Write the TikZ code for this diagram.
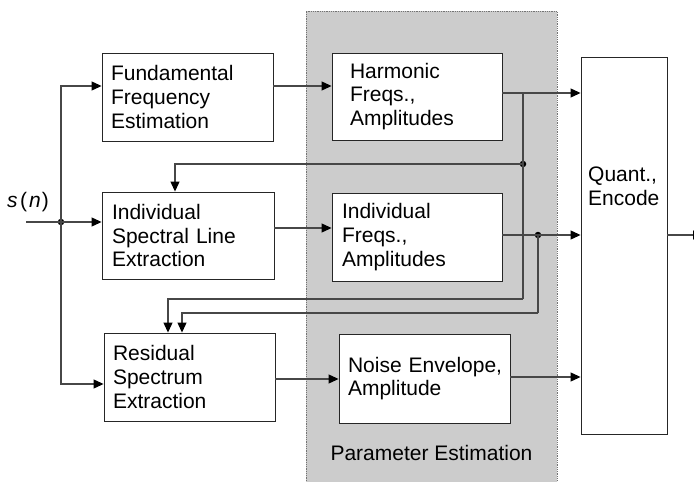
\documentclass[tikz,border=0pt]{standalone}
\usepackage{fontspec}
\setmainfont{Liberation Sans}
\usetikzlibrary{arrows.meta}
\begin{document}
\begin{tikzpicture}[x=1pt,y=-1pt,
  font=\fontsize{21}{23.7}\selectfont,
  conn/.style={draw=black!72, line width=1.1pt},
  arr/.style={conn, -{Triangle[length=10pt,width=9pt,black]}},
  box/.style={draw=black!85, line width=0.9pt, fill=white, inner ysep=0pt, align=left},
  dot/.style={circle, fill=black, inner sep=0pt, minimum size=6.5pt},
]
\useasboundingbox (0,0) rectangle (694,482);
% parameter estimation region
\fill[black!20] (306,11) rectangle (557,490);
\draw[densely dotted, black!55, line width=0.8pt] (306,490) -- (306,11) -- (557,11) -- (557,490);
\node[anchor=base] (pe) at (431.5,460.7) {Parameter Estimation};

% boxes
\node[box, minimum width=171pt, minimum height=88pt, text width=153pt, inner xsep=9pt] (ffe) at (187.5,97) {Fundamental\\Frequency\\Estimation};
\node[box, minimum width=172pt, minimum height=87pt, text width=152pt, inner xsep=10pt] (isle) at (188,235.5) {Individual\\Spectral Line\\Extraction};
\node[box, minimum width=171pt, minimum height=88pt, text width=153pt, inner xsep=9pt] (rse) at (189.5,377) {Residual\\Spectrum\\Extraction};
\node[box, minimum width=170pt, minimum height=87pt, text width=134pt, inner xsep=18pt] (harm) at (417,96.5) {Harmonic\\Freqs.,\\Amplitudes};
\node[box, minimum width=170pt, minimum height=88pt, text width=150pt, inner xsep=10pt] (iff) at (417,237) {Individual\\Freqs.,\\Amplitudes};
\node[box, minimum width=171pt, minimum height=89pt, text width=157pt, inner xsep=7pt] (noise) at (424.5,378.5) {\hspace*{2pt}Noise Envelope,\\\hspace*{2pt}Amplitude};
\node[draw=black!85, line width=0.9pt, fill=white, minimum width=86pt, minimum height=377pt, inner sep=0pt] (quant) at (624,245.5) {};
\node[anchor=north west, inner sep=0pt, align=left] (quanttxt) at (588,166.5) {Quant.,\\Encode};

% input
\node[anchor=base west, inner sep=0pt] (sn) at (7,207) {{\itshape s}\kern2.5pt(\kern2pt{\itshape n}\kern1pt)};
\coordinate (in) at (26,222);
\node[dot] (j) at (61,222) {};
\coordinate (jF) at (61,86);
\coordinate (jR) at (61,384);
\draw[conn] (in) -- (j.center);
\draw[arr] (j.center) -- (isle.west |- j);
\draw[arr] (j.center) -- (jF) -- (ffe.west |- jF);
\draw[arr] (j.center) -- (jR) -- (rse.west |- jR);

% first row
\draw[arr] (ffe.east |- jF) -- (harm.west |- jF);
\coordinate (hq) at (523,93);
\draw[arr] (harm.east |- hq) -- (quant.west |- hq);
\node[dot] (d1) at (523,164) {};
\coordinate (hb) at (523,299);
\draw[conn] (hq) -- (hb);
\coordinate (t1) at (175,164);
\draw[arr] (d1.center) -- (t1) -- (isle.north -| t1);
\coordinate (t2) at (168,299);
\draw[arr] (hb) -- (t2) -- (rse.north -| t2);

% second row
\coordinate (yII) at (300,228);
\draw[arr] (isle.east |- yII) -- (iff.west |- yII);
\node[dot] (d2) at (538,235) {};
\draw[arr] (iff.east |- d2) -- (quant.west |- d2);
\coordinate (ib) at (538,313);
\draw[conn] (d2.center) -- (ib);
\coordinate (t3) at (182,313);
\draw[arr] (ib) -- (t3) -- (rse.north -| t3);

% third row
\coordinate (yRN) at (300,379);
\draw[arr] (rse.east |- yRN) -- (noise.west |- yRN);
\coordinate (yNQ) at (540,377);
\draw[arr] (noise.east |- yNQ) -- (quant.west |- yNQ);

% output
\coordinate (out) at (703,235);
\draw[arr] (quant.east |- out) -- (out);
\end{tikzpicture}
\end{document}
